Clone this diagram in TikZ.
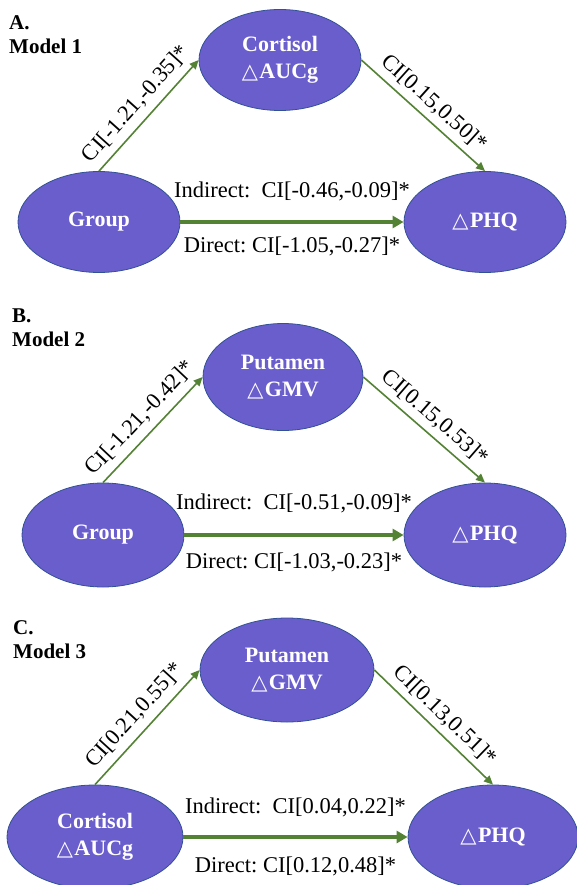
\documentclass[tikz,border=0pt]{standalone}
\usepackage{fontspec}
\setmainfont{Liberation Serif}
\newfontfamily\symfont{DejaVu Sans}
\usetikzlibrary{shapes.geometric,arrows.meta}
\definecolor{nodefill}{RGB}{106,94,204}
\definecolor{nodeedge}{RGB}{50,80,150}
\definecolor{arrowgreen}{RGB}{84,130,53}
\newcommand{\tri}{{\symfont\mdseries\fontsize{21}{21}\selectfont △}\hspace{1.5pt}}
\begin{document}
\begin{tikzpicture}[x=1pt,y=-1pt,
  var/.style={ellipse, fill=nodefill, draw=nodeedge, line width=0.8pt,
    minimum width=162pt, minimum height=101pt, inner sep=0pt, text=white,
    font=\fontsize{22}{27}\selectfont\bfseries, align=center},
  patharrow/.style={draw=arrowgreen, line width=1.6pt, -{Triangle[length=9pt,width=8pt]}},
  directarrow/.style={draw=arrowgreen, line width=4pt, -{Triangle[length=11pt,width=12pt]}},
  lab/.style={font=\fontsize{22.5}{23}\selectfont, inner sep=1pt},
  heading/.style={font=\fontsize{21}{24}\selectfont\bfseries, anchor=west, align=left, inner sep=0pt}
]
\useasboundingbox (0,0) rectangle (577,885);

% ---------- Panel A ----------
\node[heading] (hA) at (9,35) {A.\\Model 1};
\node[var] (aM) at (280,60) {Cortisol\\\tri AUCg};
\node[var] (aX) at (99,222) {Group};
\node[var] (aY) at (485,222) {\tri PHQ};
\draw[patharrow] (aX.north) -- node[lab, sloped, above=6pt] {CI[-1.21,-0.35]*} (aM.west);
\draw[patharrow] (aM.east) -- node[lab, sloped, above=5pt] {CI[0.15,0.50]*} (aY.north);
\draw[directarrow] (aX.east) -- node[lab, yshift=31pt] {Indirect:\ \ CI[-0.46,-0.09]*}
  node[lab, yshift=-24pt] {Direct:\ CI[-1.05,-0.27]*} (aY.west);

% ---------- Panel B ----------
\node[heading] (hB) at (12,328) {B.\\Model 2};
\node[var, minimum width=160pt, minimum height=107pt] (bM) at (283,377) {Putamen\\\tri GMV};
\node[var, minimum height=104pt] (bX) at (103,535) {Group};
\node[var, minimum height=104pt] (bY) at (485,535) {\tri PHQ};
\draw[patharrow] (bX.north) -- node[lab, sloped, above=6pt] {CI[-1.21,-0.42]*} (bM.west);
\draw[patharrow] (bM.east) -- node[lab, sloped, above=5pt] {CI[0.15,0.53]*} (bY.north);
\draw[directarrow] (bX.east) -- node[lab, yshift=32pt] {Indirect:\ \ CI[-0.51,-0.09]*}
  node[lab, yshift=-27pt] {Direct:\ CI[-1.03,-0.23]*} (bY.west);

% ---------- Panel C ----------
\node[heading] (hC) at (13,640) {C.\\Model 3};
\node[var, minimum width=174pt, minimum height=104pt] (cM) at (287,670) {Putamen\\\tri GMV};
\node[var, minimum width=176pt, minimum height=104pt] (cX) at (95,837) {Cortisol\\\tri AUCg};
\node[var, minimum width=170pt, minimum height=104pt] (cY) at (493,837) {\tri PHQ};
\draw[patharrow] (cX.north) -- node[lab, sloped, above=6pt] {CI[0.21,0.55]*} (cM.west);
\draw[patharrow] (cM.east) -- node[lab, sloped, above=5pt] {CI[0.13,0.51]*} (cY.north);
\draw[directarrow] (cX.east) -- node[lab, yshift=30pt] {Indirect:\ \ CI[0.04,0.22]*}
  node[lab, yshift=-29pt] {Direct:\ CI[0.12,0.48]*} (cY.west);
\end{tikzpicture}
\end{document}
